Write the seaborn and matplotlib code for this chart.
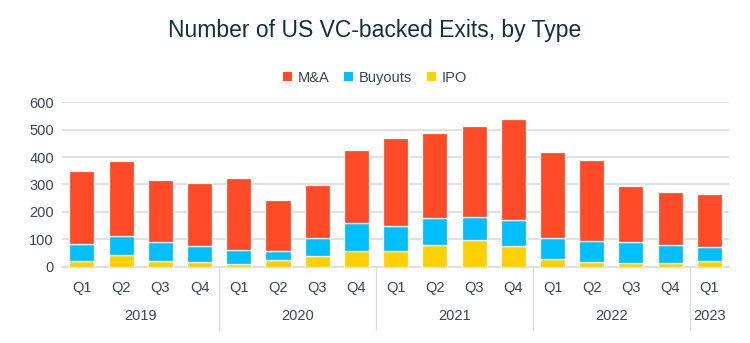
import numpy as np
import pandas as pd
import matplotlib
matplotlib.use("Agg")
import matplotlib.pyplot as plt
from matplotlib.lines import Line2D
from matplotlib.patches import Patch
import seaborn as sns

# Quarterly US VC-backed exit counts by exit type
quarters = ["Q1", "Q2", "Q3", "Q4",
            "Q1", "Q2", "Q3", "Q4",
            "Q1", "Q2", "Q3", "Q4",
            "Q1", "Q2", "Q3", "Q4",
            "Q1"]
years = ["2019", "2020", "2021", "2022", "2023"]
quarters_per_year = [4, 4, 4, 4, 1]

ipo = [20, 42, 23, 18, 12, 25, 39, 58, 57, 80, 98, 78, 28, 17, 16, 13, 21]
buyouts = [64, 72, 69, 57, 51, 32, 68, 101, 93, 98, 85, 94, 79, 79, 76, 67, 52]
mna = [265, 270, 223, 229, 261, 187, 190, 268, 320, 310, 331, 367, 311, 292, 204, 193, 192]

series_names = ["M&A", "Buyouts", "IPO"]
colors = {"M&A": "#FF4B28", "Buyouts": "#00BFFF", "IPO": "#FFD100"}

TEXT = "#3A4752"
TITLE = "#14303F"
GRID = "#DCDCDC"

sns.set_theme(style="white")
plt.rcParams["font.family"] = ["Liberation Sans", "DejaVu Sans"]

periods = [f"{y}-{i}" for y, n in zip(years, quarters_per_year) for i in range(n)]
df = pd.DataFrame({"period": periods, "IPO": ipo, "Buyouts": buyouts, "M&A": mna})

fig = plt.figure(figsize=(7.5, 3.43), dpi=100)
ax = fig.add_axes([0.083, 0.2216, 0.889, 0.481])

# Stack from the bottom: IPO, then Buyouts, then M&A
bottoms = np.zeros(len(df))
for name in ["IPO", "Buyouts", "M&A"]:
    sns.barplot(data=df, x="period", y=name, order=periods, color=colors[name],
                width=0.64, bottom=bottoms.copy(), edgecolor="white",
                linewidth=0.9, saturation=1, ax=ax, zorder=3)
    bottoms += df[name].to_numpy()

ax.set_ylim(0, 600)
ax.set_xlim(-0.5, len(periods) - 0.5)
ax.set_yticks(range(0, 601, 100))
ax.yaxis.grid(True, color=GRID, linewidth=1.2, zorder=0)
ax.set_axisbelow(True)
for s in ["top", "right", "left"]:
    ax.spines[s].set_visible(False)
ax.spines["bottom"].set_color(GRID)
ax.spines["bottom"].set_linewidth(1.2)
ax.set_xlabel("")
ax.set_ylabel("")
ax.set_xticks(range(len(periods)))
ax.set_xticklabels(quarters)
ax.tick_params(axis="x", length=0, pad=10, labelsize=10.5, labelcolor=TEXT)
ax.tick_params(axis="y", length=0, pad=6, labelsize=10.5, labelcolor=TEXT)

# Year group labels and separators beneath the quarter labels
trans = matplotlib.transforms.blended_transform_factory(ax.transData, ax.transAxes)
start = 0
for i, (yr, n) in enumerate(zip(years, quarters_per_year)):
    center = start + (n - 1) / 2
    ax.text(center, -0.30, yr, transform=trans, ha="center", va="center",
            fontsize=10.5, color=TEXT)
    if i > 0:
        ax.add_line(Line2D([start - 0.5, start - 0.5], [0, -0.38], transform=trans,
                           color=GRID, linewidth=1.0, clip_on=False))
    start += n

fig.text(0.5, 0.912, "Number of US VC-backed Exits, by Type", ha="center",
         va="center", fontsize=16.5, color=TITLE)

handles = [Patch(facecolor=colors[n], edgecolor="none") for n in series_names]
fig.legend(handles, series_names, loc="center", bbox_to_anchor=(0.5, 0.773),
           ncol=3, frameon=False, fontsize=10.5, labelcolor=TEXT,
           handlelength=0.6, handleheight=0.6, handletextpad=0.4,
           columnspacing=1.0)

fig.savefig("out.png", dpi=100)
